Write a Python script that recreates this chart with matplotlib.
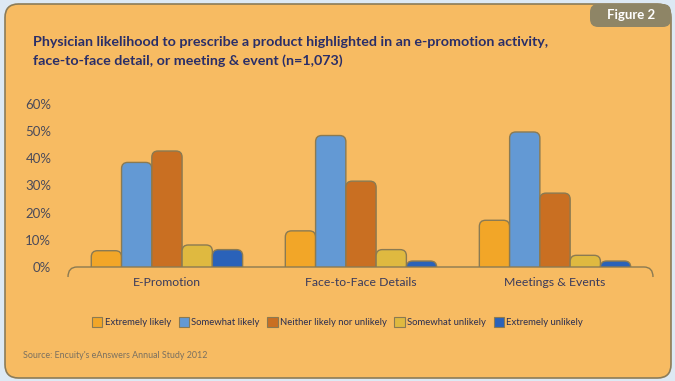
import matplotlib.pyplot as plt
from matplotlib.patches import FancyBboxPatch, Patch, PathPatch
from matplotlib.path import Path

categories = ["E-Promotion", "Face-to-Face Details", "Meetings & Events"]
series = ["Extremely likely", "Somewhat likely", "Neither likely nor unlikely",
          "Somewhat unlikely", "Extremely unlikely"]
extremely_likely = [0.060, 0.133, 0.172]
somewhat_likely = [0.385, 0.484, 0.497]
neither = [0.427, 0.316, 0.272]
somewhat_unlikely = [0.081, 0.064, 0.043]
extremely_unlikely = [0.064, 0.022, 0.022]
values = [extremely_likely, somewhat_likely, neither, somewhat_unlikely, extremely_unlikely]
colors = ["#f2a628", "#6399d4", "#c96f22", "#dfb940", "#2a62b9"]
yticks = [0, 0.1, 0.2, 0.3, 0.4, 0.5, 0.6]

W, H = 675, 381
fig = plt.figure(figsize=(W / 100, H / 100), dpi=100)
fig.patch.set_facecolor("#dde9f4")
plt.rcParams["font.family"] = ["Lato", "DejaVu Sans"]

# panel background
panel = FancyBboxPatch((5 / W, 3 / H), 666 / W, 374 / H,
                       boxstyle="round,pad=0,rounding_size=0.02",
                       transform=fig.transFigure, facecolor="#f7bb62",
                       edgecolor="#8c7c58", linewidth=1.2, mutation_aspect=W / H,
                       zorder=-10)
fig.add_artist(panel)
tab = FancyBboxPatch((590 / W, 1 - 27 / H), 81 / W, 23 / H,
                     boxstyle="round,pad=0,rounding_size=0.012",
                     transform=fig.transFigure, facecolor="#8e8566",
                     edgecolor="none", mutation_aspect=W / H, zorder=-9)
fig.add_artist(tab)
fig.text(631 / W, 1 - 15 / H, "Figure 2", color="white", fontsize=9.5,
         fontweight="bold", ha="center", va="center")

fig.text(33 / W, 1 - 42 / H,
         "Physician likelihood to prescribe a product highlighted in an e-promotion activity,",
         color="#2a2e68", fontsize=10.3, fontweight="bold", ha="left", va="center")
fig.text(33 / W, 1 - 61 / H, "face-to-face detail, or meeting & event (n=1,073)",
         color="#2a2e68", fontsize=10.3, fontweight="bold", ha="left", va="center")

ax = fig.add_axes([68 / W, 1 - 267 / H, 585 / W, 163 / H])
ax.set_facecolor("none")
ax.set_xlim(-0.51, 2.505)
ax.set_ylim(0, 0.6)
for s in ax.spines.values():
    s.set_visible(False)

bw = 0.156
x = range(len(categories))
ppx = 585 / 3.015
ppy = 163 / 0.6
for i, (vals, c) in enumerate(zip(values, colors)):
    offs = [xi + (i - 2) * bw for xi in x]
    bars = ax.bar(offs, vals, width=bw, color=c)
    for r in bars:
        r.set_visible(False)
        p = FancyBboxPatch((r.get_x(), -0.04), r.get_width(), r.get_height() + 0.04,
                           boxstyle="round,pad=0,rounding_size=0.032",
                           mutation_aspect=ppx / ppy,
                           facecolor=c, edgecolor="#8a7a52", linewidth=1.0)
        ax.add_patch(p)

# baseline with curled ends
rx, ry = 9 / 585, 10 / 163
verts = [(0, -ry), (0, 0), (rx, 0), (1 - rx, 0), (1, 0), (1, -ry)]
codes = [Path.MOVETO, Path.CURVE3, Path.CURVE3, Path.LINETO, Path.CURVE3, Path.CURVE3]
ax.add_patch(PathPatch(Path(verts, codes), transform=ax.transAxes, fill=False,
                       edgecolor="#8a7a52", linewidth=1.0, clip_on=False))

ax.set_xticks(list(x))
ax.set_xticklabels(categories, fontsize=8.8, color="#3a3b5c")
ax.set_yticks(yticks)
ax.set_yticklabels([f"{int(t * 100)}%" for t in yticks], fontsize=9.5, color="#4a4a5a")
ax.tick_params(axis="both", length=0)
ax.tick_params(axis="x", pad=7)
ax.tick_params(axis="y", pad=12)

handles = [Patch(facecolor=c, edgecolor="#8a7a52", linewidth=0.8) for c in colors]
fig.legend(handles, series, loc="center", bbox_to_anchor=(0.5, 1 - 322 / H), ncol=5,
           frameon=False, fontsize=6.8, handlelength=1.1, handleheight=1.2,
           handletextpad=0.25, columnspacing=0.8, labelcolor="#2a2e50")

fig.text(23 / W, 1 - 356 / H, "Source: Encuity's eAnswers Annual Study 2012",
         color="#7a7060", fontsize=6.4, ha="left", va="center")

fig.savefig("out.png", dpi=100, facecolor=fig.get_facecolor())
